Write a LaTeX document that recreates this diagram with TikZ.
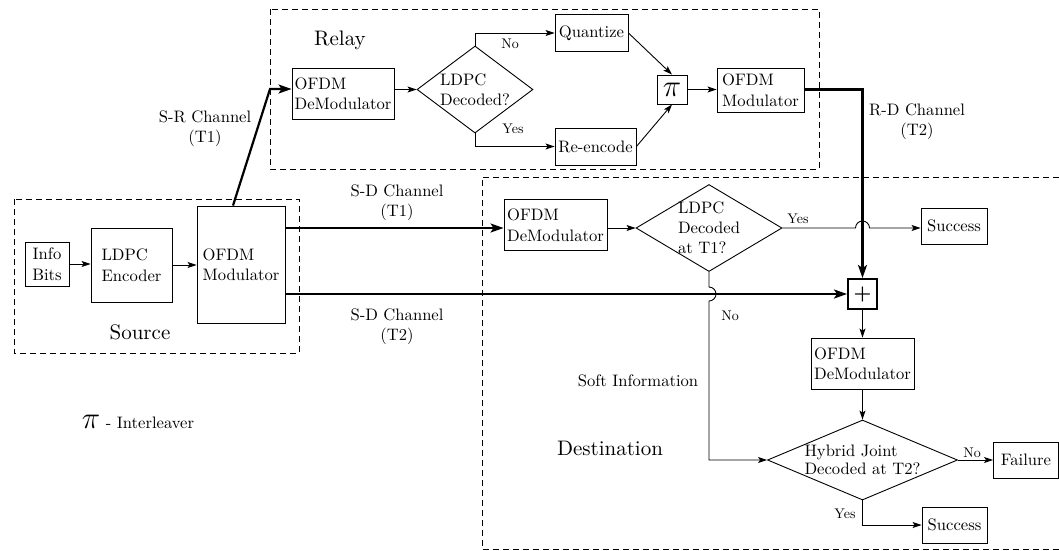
\RequirePackage{fix-cm}
\documentclass[tikz,border=0pt]{standalone}
\usepackage{fontspec}
\setmainfont{lmroman10-regular.otf}[BoldFont=lmroman10-bold.otf]
\usetikzlibrary{shapes.geometric,arrows.meta,calc}

\tikzset{
  txt/.style={font=\fontsize{16.6}{20.5}\selectfont},
  blk/.style={draw, line width=0.9pt, inner sep=2pt, align=left, txt},
  dec/.style={draw, diamond, line width=0.9pt, inner sep=0pt, align=left, txt},
  lbl/.style={txt, align=center, inner sep=0pt},
  yn/.style={font=\fontsize{14}{16}\selectfont, inner sep=0pt},
  title/.style={font=\fontsize{21}{24}\selectfont, inner sep=0pt},
  flow/.style={line width=0.9pt, -{Stealth[length=9pt,width=6pt,inset=2pt]}},
  chan/.style={line width=2.2pt, -{Stealth[length=13pt,width=9pt,inset=3pt]}},
  zone/.style={line width=1pt, dash pattern=on 6pt off 4pt},
}

\begin{document}
\begin{tikzpicture}[x=1pt,y=1pt]
\useasboundingbox (0,0) rectangle (1059,-550);

% ---------- regions ----------
\draw[zone] (14,-199) rectangle (299,-353);
\draw[zone] (270,-9) rectangle (819,-169);
\draw[zone] (1059,-177) -- (482,-177) -- (482,-549.5) -- (1059,-549.5);

% ---------- source ----------
\node[blk, minimum width=44pt, minimum height=44pt, align=center] (info) at (47,-264) {Info\\Bits};
\node[blk, minimum width=81pt, minimum height=74pt] (enc) at (131.5,-265) {LDPC\\Encoder};
\node[blk, minimum width=88pt, minimum height=117pt] (smod) at (241,-264.5) {OFDM\\Modulator};
\node[title] (srcl) at (140,-332) {Source};

% ---------- relay ----------
\node[blk, minimum width=102pt, minimum height=51pt] (rdem) at (343,-93.5) {OFDM\\DeModulator};
\node[dec, aspect=1.333, minimum width=116pt, minimum height=87pt] (rdec) at (475,-89.5) {LDPC\\Decoded?};
\node[blk, minimum width=73pt, minimum height=37pt, align=center] (quant) at (591.5,-33) {Quantize};
\node[blk, minimum width=81pt, minimum height=37pt, align=center] (renc) at (595.5,-146.5) {Re-encode};
\node[blk, minimum width=30pt, minimum height=29pt, inner sep=0pt, font=\fontsize{31}{31}\selectfont] (pi) at (672,-89.5) {$\pi$};
\node[blk, minimum width=87pt, minimum height=44pt] (rmod) at (760.5,-90) {OFDM\\Modulator};
\node[title] (rlyl) at (340,-40) {Relay};
\node[yn] (rno) at (510,-44) {No};
\node[yn] (ryes) at (513,-129) {Yes};

% ---------- destination ----------
\node[blk, minimum width=103pt, minimum height=51pt] (ddem) at (555.5,-225) {OFDM\\DeModulator};
\node[dec, aspect=1.68, inner sep=-2pt, minimum width=146pt, minimum height=87pt, font=\fontsize{16.6}{20}\selectfont] (ddec) at (709,-228) {LDPC\\Decoded\\at T1?};
\node[blk, minimum width=66pt, minimum height=36pt, align=center] (succ1) at (954,-226) {Success};
\node[draw, line width=2pt, minimum width=29pt, minimum height=30pt, inner sep=0pt, font=\fontsize{20}{20}\selectfont\bfseries] (plus) at (862.5,-294) {+};
\node[blk, minimum width=103pt, minimum height=51pt] (ddem2) at (862.5,-363.5) {OFDM\\DeModulator};
\node[dec, aspect=2.375, minimum width=190pt, minimum height=80pt, font=\fontsize{16.6}{18}\selectfont] (hyb) at (862.5,-460) {Hybrid Joint\\Decoded at T2?};
\node[blk, minimum width=65pt, minimum height=36pt, align=center] (fail) at (1026,-460) {Failure};
\node[blk, minimum width=65pt, minimum height=36pt, align=center] (succ2) at (954.5,-525) {Success};
\node[title] (dstl) at (610,-448) {Destination};
\node[lbl] (softl) at (638,-381) {Soft Information};
\node[yn] (d1yes) at (798,-219) {Yes};
\node[yn] (d1no) at (730,-316) {No};
\node[yn] (hno) at (972,-453) {No};
\node[yn] (hyes) at (845,-514) {Yes};

% ---------- channel labels and legend ----------
\node[lbl] (srl) at (205,-128.5) {S-R Channel\\(T1)};
\node[lbl] (sd1l) at (397,-202.5) {S-D Channel\\(T1)};
\node[lbl] (sd2l) at (397,-326.5) {S-D Channel\\(T2)};
\node[lbl] (rdl) at (917,-121.5) {R-D Channel\\(T2)};
\node[txt, inner sep=0pt] (legend) at (138,-422) {{\fontsize{31}{31}\selectfont$\pi$} - Interleaver};

% ---------- source links ----------
\draw[flow] (info.east) -- (info.east -| enc.west);
\draw[flow] (enc.east) -- (enc.east -| smod.west);

% ---------- source to relay ----------
\coordinate (srk) at (270,-89);
\draw[chan] ([xshift=-8pt]smod.north) -- (srk) -- (srk -| rdem.west);

% ---------- relay links ----------
\draw[flow] (rdem.east |- rdec.west) -- (rdec.west);
\draw[flow] (rdec.north) |- (quant.west);
\draw[flow] (rdec.south) |- (renc.west);
\draw[flow] (quant.east) -- (pi.north);
\draw[flow] (renc.east) -- (pi.south);
\draw[flow] (pi.east) -- (pi.east -| rmod.west);
\draw[chan] (pi.east -| rmod.east) -| (plus.north);

% ---------- direct channels ----------
\draw[chan] (smod.east |- ddec.west) -- (ddec.west -| ddem.west);
\draw[chan] (smod.east |- plus.west) -- (plus.west);

% ---------- destination links ----------
\draw[flow] (ddem.east |- ddec.west) -- (ddec.west);
\draw[flow] (ddec.east) -- ([xshift=-7pt]plus.north |- ddec.east)
  arc[start angle=180, end angle=0, radius=7pt] -- (ddec.east -| succ1.west);
\draw[flow] (ddec.south) -- ([yshift=7pt]ddec.south |- plus.west)
  arc[start angle=90, end angle=-90, radius=7pt] -- (ddec.south |- hyb.west) -- (hyb.west);
\draw[flow] (plus.south) -- (ddem2.north);
\draw[flow] (ddem2.south) -- (hyb.north);
\draw[flow] (hyb.east) -- (fail.west);
\draw[flow] (hyb.south) |- (succ2.west);
\end{tikzpicture}
\end{document}
